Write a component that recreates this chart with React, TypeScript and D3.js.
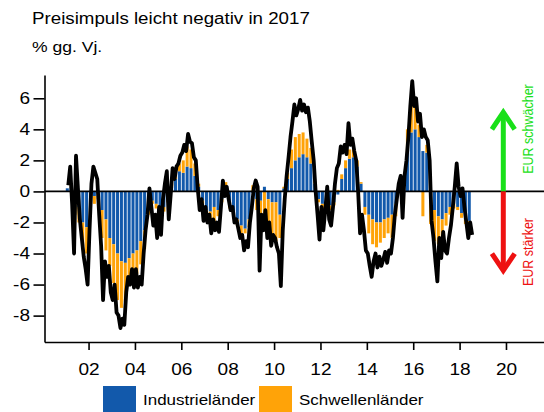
import React, { useEffect, useRef } from "react";
import * as d3 from "d3";

// Preisimpuls, % gg. Vj. - Balken alle zwei Monate ab Jan/Feb 2001
const industrie = [
  0.2, 0.3, -0.8, -1.0, -2.0, -2.3,
  -0.8, -0.3, -0.2, -1.2, -1.8, -3.0,
  -3.4, -4.0, -4.5, -4.6, -4.3, -4.0,
  -3.8, -3.2, -2.5, -1.0, -0.6, -0.8,
  -1.2, -1.0, -0.5, 0.3, 0.8, 1.3,
  1.2, 1.6, 1.5, 1.0, 0.3, -0.6,
  -1.2, -1.3, -1.0, -1.2, -0.5, 0.1,
  -0.8, -1.3, -1.8, -2.2, -2.4, -1.8,
  -0.1, -0.5, -0.6, 0.3, -0.5, -0.7,
  -0.7, -1.5, 0.2, 0.8, 1.5, 2.0,
  2.2, 2.4, 2.2, 1.8, 0.5, -0.5,
  -0.8, -1.0, -0.9, -0.7, -0.2, 0.8,
  1.5, 2.1, 2.2, 1.6, 0.5, -1.0,
  -1.5, -1.8, -2.0, -2.0, -1.8, -1.7,
  -1.5, -0.8, 0.3, -0.3, 2.5, 3.8,
  4.0, 3.5, 2.6, 2.5, -0.6, -1.2,
  -1.6, -1.8, -1.4, -1.0, -0.8, -1.0,
  -1.4, -1.8, -1.9,
];

const schwellen = [
  0.0, 0.2, -0.7, -1.0, -1.5, -1.7,
  -0.8, -0.5, -0.3, -1.8, -2.0, -1.8,
  -2.5, -3.0, -3.0, -2.5, -1.8, -1.5,
  -1.5, -1.5, -1.2, -0.5, -0.2, -0.3,
  -0.3, -0.3, -0.2, 0.2, 0.3, 0.5,
  0.8, 1.3, 1.2, 0.8, 0.2, -0.3,
  -0.4, -0.6, -1.0, -0.4, -0.2, 0.5,
  -0.3, -0.3, -0.4, -0.5, -0.3, -0.5,
  0.4, -0.7, -1.2, -1.8, -2.0, -2.4,
  -2.5, -1.5, 0.1, 0.4, 1.2, 1.5,
  1.5, 1.4, 1.2, 1.0, 0.3, -0.2,
  -0.3, -0.4, -0.3, -0.2, 0.1, 0.3,
  0.5, 0.6, 0.5, 0.4, 0.1, -0.5,
  -1.2, -1.6, -1.6, -1.3, -1.2, -1.0,
  -1.5, -0.8, 0.3, -0.5, 1.5, 1.7,
  1.5, 0.8, -1.6, 0.5, -1.5, -2.0,
  -1.8, -1.5, -0.8, -0.5, -0.3, -0.2,
  -0.3, -0.3, -0.2,
];

// Gesamt (schwarze Linie), monatlich ab Feb 2001
const gesamt = [
  0.4, 1.6, -0.8, -4.0, 2.3, 0.2, -1.8, -3.0, -4.2, -5.0, -6.0,
  -2.5, 0.5, 1.6, 1.2, 0.8, -1.5, -3.5, -7.0, -4.5, -5.5, -4.8, -6.5,
  -7.0, -6.0, -7.8, -8.0, -8.8, -8.2, -8.6, -6.5, -5.5, -6.0, -5.0, -6.2,
  -5.0, -6.2, -5.5, -6.0, -4.0, -2.5, -1.5, 0.2, -1.0, -2.2, -1.5, -3.0,
  -1.0, -2.8, -0.5, 0.5, 1.3, -1.8, -0.2, 1.5, 0.8, 1.6, 1.8, 2.3,
  2.5, 3.0, 2.6, 3.7, 3.2, 3.1, 2.2, 2.0, 0.2, -1.2, -0.5, -1.9,
  -1.0, -2.0, -1.5, -2.7, -1.8, -2.5, -2.0, -2.6, -1.0, 0.7, -0.3, 0.3,
  -0.5, -1.2, -1.0, -2.0, -1.8, -2.4, -3.0, -2.8, -3.8, -3.2, -3.6, -2.0,
  -1.0, 0.2, 0.7, 0.3, -5.1, -1.5, -2.5, -1.2, -3.0, -2.0, -3.5, -2.8,
  -3.0, -3.6, -4.0, -6.1, -2.5, -0.5, 1.0, 2.2, 3.5, 4.5, 5.6, 4.9,
  5.3, 5.9, 5.2, 5.6, 5.1, 5.4, 4.5, 3.2, 2.0, 0.0, -1.5, -3.1,
  -1.0, -2.5, -1.2, 0.3, -1.8, -2.2, -1.0, 0.5, 1.5, 1.8, 2.9, 2.5,
  3.0, 2.4, 4.4, 3.0, 3.4, 2.6, 2.0, 0.0, -2.7, -1.5, -2.5, -3.8,
  -4.0, -4.8, -5.5, -4.5, -4.0, -4.9, -4.2, -4.8, -4.4, -3.9, -4.6, -3.8,
  -4.0, -3.0, -1.5, -0.5, 0.5, 1.0, -1.7, 1.0, 2.0, 3.5, 5.5, 7.1,
  5.5, 6.0, 4.5, 5.0, 3.5, 4.0, 3.5, 3.3, 2.0, -1.9, -3.0, -4.5,
  -5.8, -3.0, -4.3, -2.6, -3.8, -4.0, -3.0, -2.2, -1.0, 0.3, 1.8, 0.3,
  -0.3, 0.2, -1.0, -2.0, -3.0, -2.0, -2.8,
];

const xTicks = [2002, 2004, 2006, 2008, 2010, 2012, 2014, 2016, 2018, 2020];
const yTicks = [-8, -6, -4, -2, 0, 2, 4, 6];
const legendItems = ["Industrieländer", "Schwellenländer"];

const BLUE = "#1259ab";
const ORANGE = "#ffa308";
const FONT = "'Liberation Sans', Arial, sans-serif";

export default function App() {
  const ref = useRef<SVGSVGElement>(null);

  useEffect(() => {
    const svg = d3.select(ref.current);
    svg.selectAll("*").remove();

    const x = d3.scaleLinear().domain([2000.1, 2021.7]).range([44.5, 545.4]);
    const y = d3.scaleLinear().domain([-9.7, 7.5]).range([342, 75]);

    // title
    svg.append("text").attr("x", 32).attr("y", 24).attr("font-size", 16).text("Preisimpuls leicht negativ in 2017");
    svg.append("text").attr("x", 32).attr("y", 52).attr("font-size", 15).text("% gg. Vj.");

    // stacked bars
    const rows = industrie.map((v, i) => ({ t: 2001 + (i + 0.5) / 6, ind: v, sch: schwellen[i] }));
    const stack = d3.stack<any>().keys(["ind", "sch"]).offset(d3.stackOffsetDiverging);
    const series = stack(rows);
    const bw = (x(2001 + 1 / 6) - x(2001)) * 0.78;
    const colors = [BLUE, ORANGE];

    series.forEach((s, k) => {
      svg.append("g")
        .selectAll("rect")
        .data(s)
        .enter()
        .append("rect")
        .attr("x", (d: any) => x(d.data.t) - bw / 2)
        .attr("y", (d: any) => y(Math.max(d[0], d[1])))
        .attr("width", bw)
        .attr("height", (d: any) => Math.abs(y(d[0]) - y(d[1])))
        .attr("fill", colors[k]);
    });

    // zero line
    svg.append("line")
      .attr("x1", x(2000.1)).attr("x2", 544)
      .attr("y1", y(0)).attr("y2", y(0))
      .attr("stroke", "black").attr("stroke-width", 1.6);

    // total line
    const pts = gesamt.map((v, i) => ({ t: 2001 + (i + 1.5) / 12, v }));
    const line = d3.line<any>().x(d => x(d.t)).y(d => y(d.v));
    svg.append("path")
      .attr("d", line(pts))
      .attr("fill", "none")
      .attr("stroke", "black")
      .attr("stroke-width", 3.8)
      .attr("stroke-linejoin", "round");

    // axes
    const yAxis = svg.append("g")
      .attr("transform", `translate(${x(2000.1)},0)`)
      .call(d3.axisLeft(y).tickValues(yTicks).tickSize(11).tickSizeOuter(0).tickPadding(3.5).tickFormat((d: any) => String(d)));
    const xAxis = svg.append("g")
      .attr("transform", `translate(0,342)`)
      .call(d3.axisBottom(x).tickValues(xTicks).tickSize(8).tickSizeOuter(0).tickPadding(13).tickFormat((d: any) => String(d).slice(2)));
    [yAxis, xAxis].forEach(a => {
      a.select(".domain").attr("stroke", "black").attr("stroke-width", 1.6);
      a.selectAll(".tick line").attr("stroke", "black").attr("stroke-width", 1.6);
      a.selectAll(".tick text").attr("font-size", 16.3).attr("font-family", FONT).attr("fill", "black");
    });

    // EUR arrows
    const ax = 503.3;
    const arrows = [
      { color: "#19e019", tip: 5.1, label: "EUR schwächer", mid: 129 },
      { color: "#ee1111", tip: -5.1, label: "EUR stärker", mid: 252 },
    ];
    arrows.forEach(a => {
      const ty = y(a.tip);
      const dir = a.tip > 0 ? 1 : -1;
      svg.append("line")
        .attr("x1", ax).attr("x2", ax)
        .attr("y1", y(0)).attr("y2", ty + dir * 1.5)
        .attr("stroke", a.color).attr("stroke-width", 5);
      svg.append("path")
        .attr("d", `M${ax - 10},${ty + dir * 15}L${ax},${ty}L${ax + 10},${ty + dir * 15}`)
        .attr("fill", "none").attr("stroke", a.color).attr("stroke-width", 5)
        .attr("stroke-linecap", "square");
      svg.append("text")
        .attr("class", "rot")
        .attr("transform", `translate(533,${a.mid}) rotate(-90) scale(1,1.17)`)
        .attr("text-anchor", "middle")
        .attr("font-size", 12.5)
        .attr("fill", a.color)
        .text(a.label);
    });

    // legend
    const lx = [103, 259];
    legendItems.forEach((name, i) => {
      svg.append("rect").attr("x", lx[i]).attr("y", 386).attr("width", 33).attr("height", 30).attr("fill", colors[i]);
      svg.append("text").attr("x", lx[i] + 40).attr("y", 405).attr("font-size", 14.5).text(name);
    });

    // widen text like the original rendering
    svg.selectAll("text").attr("font-family", FONT);
    svg.selectAll("text:not(.rot)").each(function (this: any) {
      const n = this.getComputedTextLength();
      this.setAttribute("textLength", String(n * 1.17));
      this.setAttribute("lengthAdjust", "spacingAndGlyphs");
    });
  }, []);

  return (
    <svg
      ref={ref}
      width={544}
      height={412}
      style={{ position: "absolute", left: 0, top: 0, background: "white" }}
    />
  );
}
